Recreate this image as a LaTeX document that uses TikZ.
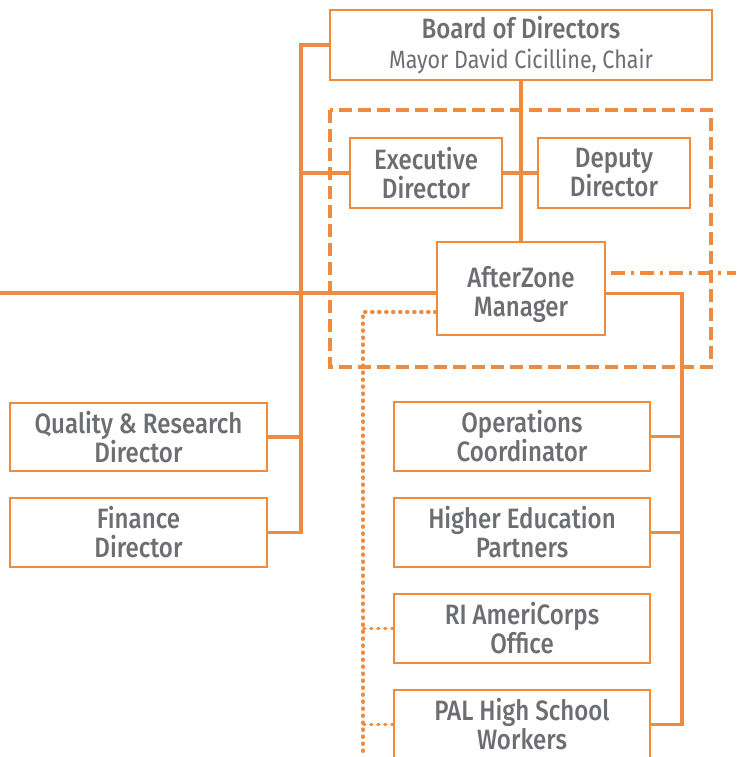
\documentclass[tikz,border=0pt]{standalone}
\usepackage{fontspec}
\setmainfont{Fira Sans}[BoldFont={Fira Sans Medium},FakeStretch=0.86]
\definecolor{orgline}{RGB}{239,139,62}
\definecolor{txtgray}{RGB}{109,110,113}
\begin{document}
\begin{tikzpicture}[x=1pt,y=-1pt,
box/.style={draw=orgline,line width=2.4pt,fill=white,text=txtgray,align=center,inner sep=0pt,
  font=\fontsize{28}{29}\selectfont\bfseries,minimum height=69pt},
link/.style={orgline,line width=3.4pt},
grpline/.style={orgline,line width=3.2pt,dash pattern=on 13pt off 6pt},
dotline/.style={orgline,line width=3.6pt,line cap=round,dash pattern=on 1pt off 6pt},
dashdotline/.style={orgline,line width=3.4pt,dash pattern=on 14pt off 6pt on 3pt off 6pt}]

\clip (0,0) rectangle (736,757);

\draw [grpline] (330,110) rectangle (711,367);

\node (bod) at (521,45) [box,minimum width=382pt,minimum height=70pt]
  {Board of Directors\\[1pt]{\fontsize{25}{27}\mdseries Mayor David Cicilline, Chair}};
\node (exec) at (426,173) [box,minimum width=152pt,minimum height=70pt] {Executive\\Director};
\node (dep) at (614,173) [box,minimum width=152pt,minimum height=70pt] {Deputy\\Director};
\node (azm) at (521,288.5) [box,minimum width=168pt,minimum height=93pt] {\rule{0pt}{7pt}\\[-3pt]AfterZone\\Manager};

\node (qrd) at (138.5,437) [box,minimum width=257pt,minimum height=68pt] {Quality \& Research\\Director};
\node (fin) at (138.5,532.5) [box,minimum width=257pt] {Finance\\Director};

\node (ops) at (522,436.5) [box,minimum width=256pt] {Operations\\Coordinator};
\node (hep) at (522,532.5) [box,minimum width=256pt] {Higher Education\\Partners};
\node (rac) at (522,628.5) [box,minimum width=256pt] {RI AmeriCorps\\Office};
\node (pal) at (522,724.5) [box,minimum width=256pt] {PAL High School\\Workers};

\coordinate (lbus) at (301,0);
\coordinate (rbus) at (682,0);
\coordinate (dbot) at (363,757);
\coordinate (edgeL) at (0,293);
\coordinate (edgeR) at (736,273);

\draw [link] (bod.west) -- (bod.west -| lbus) |- (fin.east);
\draw [link] (qrd.east) -- (qrd.east -| lbus);
\draw [link] (exec.west) -- (exec.west -| lbus);
\draw [link] (exec.east) -- (dep.west);
\draw [link] (bod.south) -- (azm.north);

\draw [link] (edgeL) -- (edgeL -| azm.west);
\draw [link] ([yshift=-5pt]azm.east) -| (rbus |- pal.east) -- (pal.east);
\draw [link] (ops.east) -- (ops.east -| rbus);
\draw [link] (hep.east) -- (hep.east -| rbus);

\draw [dashdotline] ([xshift=5pt]azm.east |- edgeR) -- (edgeR);

\draw [dotline] ([yshift=-23.5pt]azm.west) -| (dbot);
\draw [dotline] (rac.west) -- (rac.west -| dbot);
\draw [dotline] (pal.west) -- (pal.west -| dbot);

\end{tikzpicture}
\end{document}
